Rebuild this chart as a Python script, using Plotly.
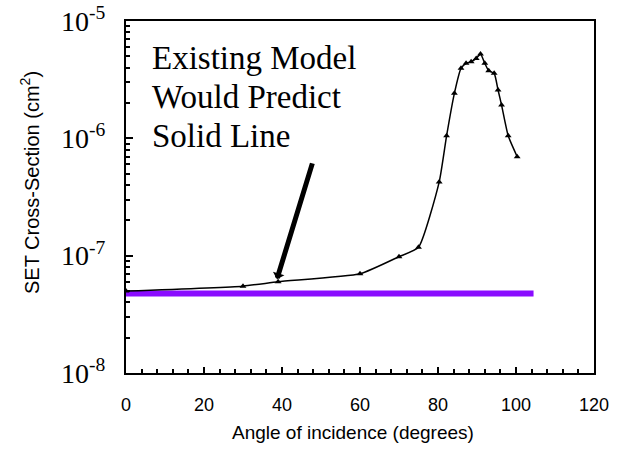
import plotly.graph_objects as go
import math

# Measured SET cross-section vs angle of incidence
angle = [0, 30, 39, 60, 70, 75, 80.3, 82.2, 84.2, 85.9, 87.2, 88.5, 89.8, 90.9, 92, 93, 94.4, 95.4, 96.3, 98, 100.3]
xsec = [5.0e-8, 5.5e-8, 6.0e-8, 7.0e-8, 9.8e-8, 1.18e-7, 4.24e-7, 1.05e-6, 2.42e-6, 3.95e-6, 4.36e-6,
        4.5e-6, 4.8e-6, 5.23e-6, 4.36e-6, 3.77e-6, 3.58e-6, 2.58e-6, 1.92e-6, 1.05e-6, 6.97e-7]

# Existing-model prediction (flat)
model_x = [0, 104.5]
model_y = [4.75e-8, 4.75e-8]

y_tickvals = [1e-8, 1e-7, 1e-6, 1e-5]
y_ticktext = ["10<sup>-8</sup>", "10<sup>-7</sup>", "10<sup>-6</sup>", "10<sup>-5</sup>"]
x_tickvals = [0, 20, 40, 60, 80, 100, 120]

note_lines = ["Existing Model", "Would Predict", "Solid Line"]

arrow_tip = (38.7, 6.3e-8)
arrow_tail = (47.9, 6.3e-7)

fig = go.Figure()
fig.add_trace(go.Scatter(x=model_x, y=model_y, mode="lines",
                         line=dict(color="#8a0cff", width=6), showlegend=False))
fig.add_trace(go.Scatter(x=angle, y=xsec, mode="lines+markers",
                         line=dict(color="black", width=1.5, shape="spline", smoothing=0.5),
                         marker=dict(symbol="triangle-up", size=6, color="black"),
                         showlegend=False))

fig.add_annotation(x=arrow_tip[0], y=math.log10(arrow_tip[1]),
                   ax=arrow_tail[0], ay=math.log10(arrow_tail[1]),
                   xref="x", yref="y", axref="x", ayref="y",
                   showarrow=True, arrowhead=1, arrowsize=0.4, arrowwidth=5,
                   arrowcolor="black", text="")

for i, line in enumerate(note_lines):
    fig.add_annotation(x=0.051, y=0.895 - 0.111 * i, xref="paper", yref="paper",
                       xanchor="left", yanchor="middle", align="left", showarrow=False,
                       text=line,
                       font=dict(family="Liberation Serif", size=33, color="black"))

fig.add_annotation(x=-0.205, y=0.54, xref="paper", yref="paper",
                   xanchor="center", yanchor="middle",
                   textangle=-90, showarrow=False,
                   text="SET Cross-Section (cm<sup>2</sup>)",
                   font=dict(family="Liberation Sans", size=20, color="black"))
fig.add_annotation(x=0.485, y=-0.168, xref="paper", yref="paper",
                   xanchor="center", yanchor="middle", showarrow=False,
                   text="Angle of incidence (degrees)",
                   font=dict(family="Liberation Sans", size=19, color="black"))

fig.update_xaxes(range=[0, 120], tickvals=x_tickvals, ticks="inside", ticklen=6,
                 tickwidth=1.5, tickcolor="black", automargin=False,
                 minor=dict(dtick=4, ticks="inside", ticklen=4, tickcolor="black"),
                 showline=True, linecolor="black", linewidth=2, mirror=True,
                 showgrid=False, zeroline=False, ticklabeloverflow="allow",
                 tickfont=dict(family="Liberation Sans", size=18, color="black"),
                 ticklabelstandoff=14)
fig.update_yaxes(type="log", range=[-8, -5], tickvals=y_tickvals, ticktext=y_ticktext,
                 ticks="inside", ticklen=7, tickwidth=1.5, tickcolor="black", automargin=False,
                 minor=dict(dtick="D1", ticks="inside", ticklen=4, tickcolor="black"),
                 showline=True, linecolor="black", linewidth=2, mirror=True,
                 showgrid=False, zeroline=False, ticklabeloverflow="allow",
                 tickfont=dict(family="Liberation Serif", size=28, color="black"),
                 ticklabelstandoff=13)

fig.update_layout(width=617, height=453, margin=dict(l=126, r=23, t=21, b=80),
                  plot_bgcolor="white", paper_bgcolor="white")
fig.write_html("out.html", config={"displayModeBar": False},
               post_script="document.body.style.margin='0';")
